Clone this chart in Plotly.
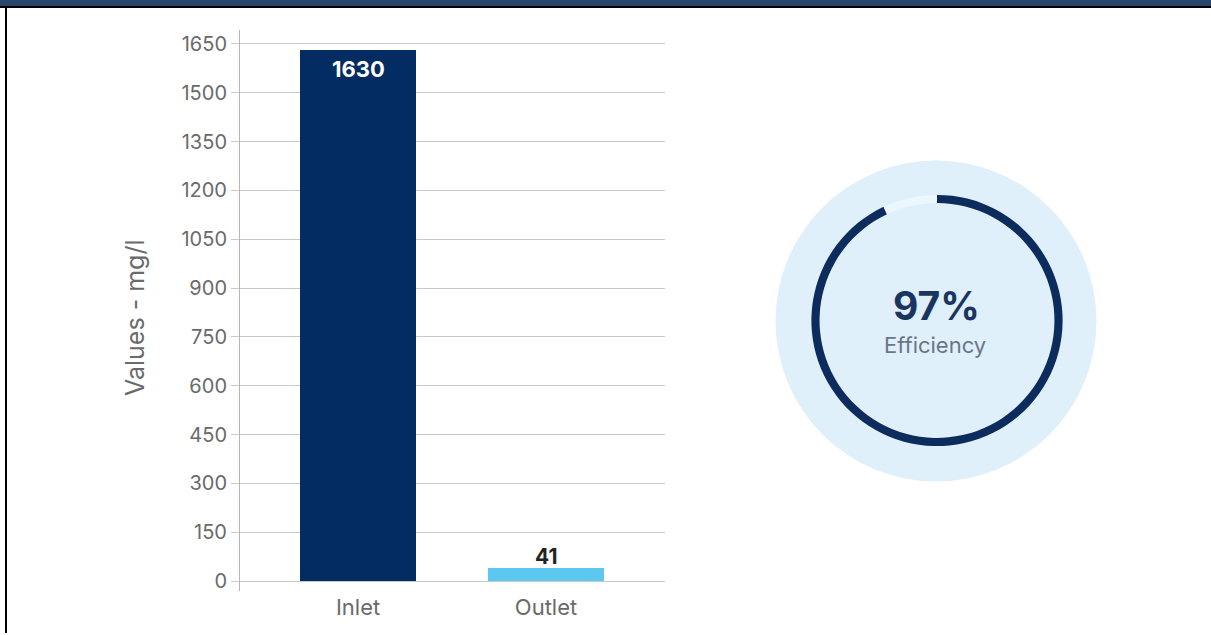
import plotly.graph_objects as go

# ---- data ----
categories = ["Inlet", "Outlet"]
values = [1630, 41]
efficiency_pct = 97
efficiency_label = "Efficiency"
ring_arc = [93, 7]          # drawn arc vs. gap
y_title = "Values - mg/l"
y_ticks = [0, 150, 300, 450, 600, 750, 900, 1050, 1200, 1350, 1500, 1650]

W, H = 1211, 635
FONT = "Inter"
NAVY = "#032d62"
LIGHT = "#5cc8f0"
GREY = "#6a6a6a"

def px(x):
    return x / W

def py(y):
    return 1 - y / H

fig = go.Figure()

fig.add_trace(go.Bar(
    x=categories, y=values,
    marker=dict(color=[NAVY, LIGHT], line=dict(width=0)),
    width=0.62, showlegend=False, hoverinfo="skip",
))

# background circle
fig.add_trace(go.Pie(
    values=[1], labels=["bg"], marker=dict(colors=["#dff0fb"]),
    textinfo="none", sort=False, showlegend=False, hoverinfo="skip",
    domain=dict(x=[px(936 - 161), px(936 + 161)], y=[py(322 + 161), py(322 - 161)]),
))
# ring
fig.add_trace(go.Pie(
    values=ring_arc, labels=["arc", "gap"], hole=0.935,
    marker=dict(colors=["#0b2c5c", "#ecf6fd"]),
    textinfo="none", sort=False, direction="clockwise", rotation=0,
    showlegend=False, hoverinfo="skip",
    domain=dict(x=[px(937 - 126), px(937 + 126)], y=[py(321.5 + 126), py(321.5 - 126)]),
))

annotations = [
    dict(x=categories[0], y=values[0], xref="x", yref="y", text=f"<b>{values[0]}</b>",
         showarrow=False, yanchor="middle", yshift=-19,
         font=dict(family=FONT, size=22, color="white")),
    dict(x=categories[1], y=values[1], xref="x", yref="y", text=f"<b>{values[1]}</b>",
         showarrow=False, yanchor="middle", yshift=11,
         font=dict(family=FONT, size=21, color="#222222")),
    dict(x=px(135), y=py(319), xref="paper", yref="paper", text=y_title, textangle=-90,
         showarrow=False, xanchor="center", yanchor="middle",
         font=dict(family=FONT, size=25, color=GREY)),
    dict(x=px(936), y=py(306), xref="paper", yref="paper", text=f"<b>{efficiency_pct}%</b>",
         showarrow=False, xanchor="center", yanchor="middle",
         font=dict(family=FONT, size=39, color="#1b3561")),
    dict(x=px(935), y=py(346), xref="paper", yref="paper", text=efficiency_label,
         showarrow=False, xanchor="center", yanchor="middle",
         font=dict(family=FONT, size=22, color="#6b7588")),
]

shapes = [
    dict(type="rect", xref="paper", yref="paper", x0=0, x1=1, y0=py(6), y1=1,
         fillcolor="#27476a", line=dict(width=0), layer="above"),
    dict(type="rect", xref="paper", yref="paper", x0=0, x1=1, y0=py(8), y1=py(6),
         fillcolor="#000000", line=dict(width=0), layer="above"),
    dict(type="rect", xref="paper", yref="paper", x0=px(5), x1=px(7), y0=0, y1=py(6),
         fillcolor="#000000", line=dict(width=0), layer="above"),
]

scale = (583 - 44) / 1650.0
fig.update_layout(
    width=W, height=H, autosize=False,
    margin=dict(l=0, r=0, t=0, b=0),
    paper_bgcolor="white", plot_bgcolor="white",
    font=dict(family=FONT, color=GREY),
    showlegend=False,
    annotations=annotations, shapes=shapes,
    xaxis=dict(
        domain=[px(240), px(665)], range=[-0.628, 1.633],
        showgrid=False, zeroline=False, showline=False, ticks="",
        tickfont=dict(family=FONT, size=22, color=GREY),
        ticklabelstandoff=1,
    ),
    yaxis=dict(
        domain=[py(593), py(30)],
        range=[-(593 - 583) / scale, 1650 + (44 - 30) / scale],
        tickvals=y_ticks, ticktext=[str(v) for v in y_ticks],
        showgrid=True, gridcolor="#c9c9c9", gridwidth=1,
        zeroline=False, showline=True, linecolor="#b5b5b5", linewidth=1,
        ticks="outside", ticklen=8, tickcolor="#c9c9c9",
        tickfont=dict(family=FONT, size=20, color=GREY),
    ),
    bargap=0,
)

fig.write_html("out.html")
